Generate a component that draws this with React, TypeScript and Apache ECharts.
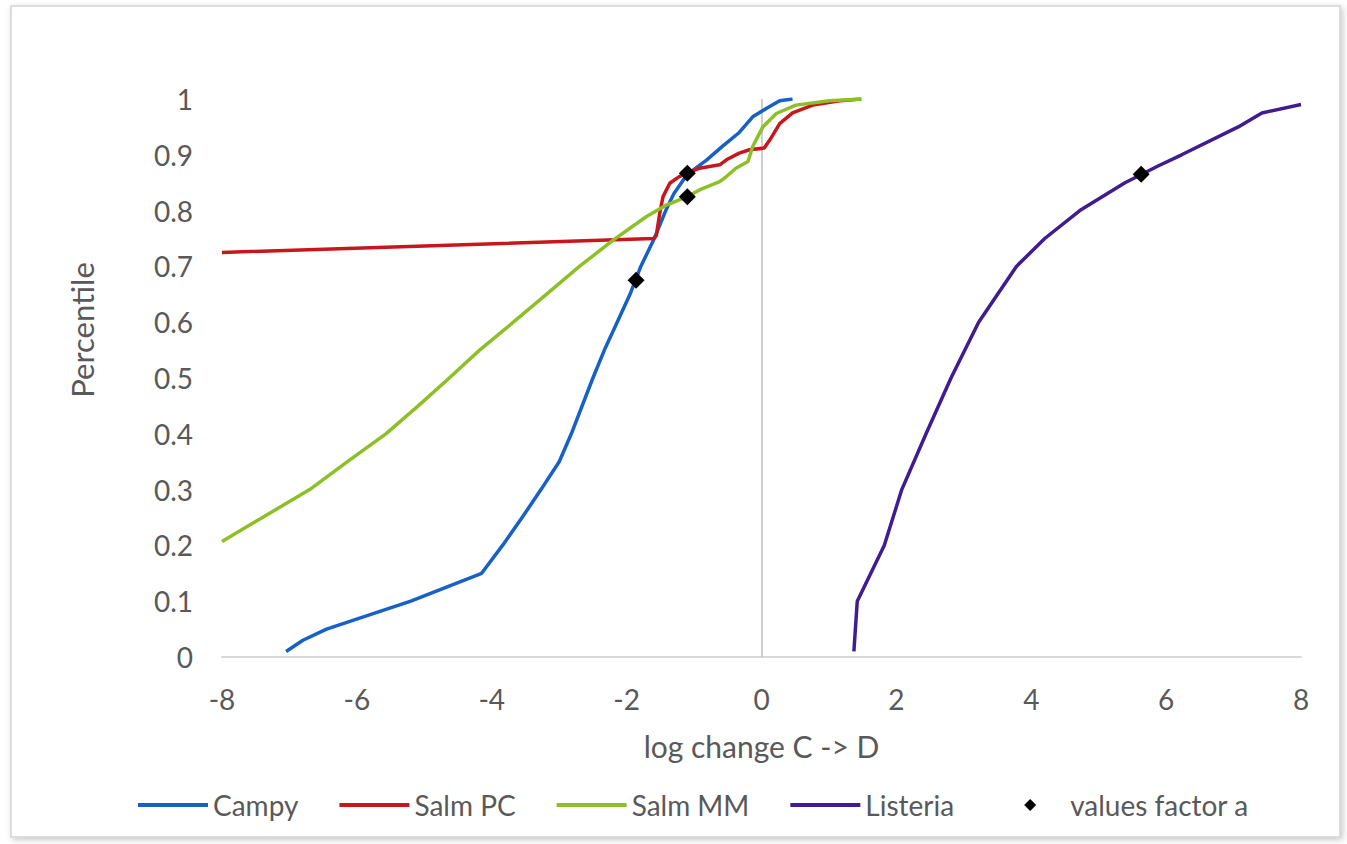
import React, { useEffect, useRef } from "react";
import * as echarts from "echarts";

// ---- data ----
const campyX = [-7.05, -6.8, -6.45, -5.2, -4.15, -3.84, -3.55, -3.27, -3.0, -2.82, -2.66, -2.5, -2.33, -2.14, -1.95, -1.79, -1.59, -1.42, -1.3, -1.1, -0.82, -0.58, -0.33, -0.13, 0.07, 0.27, 0.46];
const campyP = [0.01, 0.03, 0.05, 0.1, 0.15, 0.2, 0.25, 0.3, 0.35, 0.4, 0.45, 0.5, 0.55, 0.6, 0.65, 0.7, 0.75, 0.8, 0.83, 0.865, 0.89, 0.915, 0.94, 0.968, 0.983, 0.997, 1.0];

const salmPcX = [-8, -1.6, -1.56, -1.51, -1.46, -1.36, -1.22, -1.1, -0.92, -0.62, -0.52, -0.33, -0.18, 0.04, 0.12, 0.27, 0.46, 0.76, 1.16, 1.48];
const salmPcP = [0.725, 0.75, 0.755, 0.795, 0.825, 0.849, 0.861, 0.867, 0.876, 0.882, 0.891, 0.903, 0.909, 0.912, 0.926, 0.956, 0.975, 0.989, 0.997, 1.0];

const salmMmX = [-8, -7.4, -6.7, -6.14, -5.57, -5.09, -4.63, -4.18, -3.68, -3.19, -2.7, -2.2, -1.71, -1.41, -1.1, -0.92, -0.62, -0.52, -0.38, -0.2, -0.13, 0.02, 0.22, 0.51, 1.01, 1.48];
const salmMmP = [0.207, 0.25, 0.3, 0.35, 0.4, 0.45, 0.5, 0.55, 0.6, 0.65, 0.7, 0.747, 0.789, 0.81, 0.825, 0.837, 0.852, 0.861, 0.876, 0.888, 0.915, 0.95, 0.974, 0.989, 0.997, 1.0];

const listeriaX = [1.37, 1.42, 1.82, 2.08, 2.44, 2.81, 3.22, 3.78, 4.2, 4.72, 5.39, 5.88, 6.23, 7.07, 7.42, 8.0];
const listeriaP = [0.01, 0.1, 0.2, 0.3, 0.4, 0.5, 0.6, 0.7, 0.75, 0.8, 0.85, 0.88, 0.9, 0.95, 0.975, 0.99];

const factorX = [-1.86, -1.1, -1.1, 5.63];
const factorP = [0.675, 0.867, 0.825, 0.865];

const seriesNames = ["Campy", "Salm PC", "Salm MM", "Listeria", "values factor a"];
const seriesColors = ["#1660C6", "#C8161D", "#8CC026", "#401C92", "#000000"];

const xTitle = "log change C -> D";
const yTitle = "Percentile";

const FONT = "Lato, 'Noto Sans', sans-serif";
const TEXT = "#595959";
const LINE_ICON = "path://M0,0L70,0L70,4L0,4Z";
// diamond centred in a 70-wide box (zero-length segments widen the bounds)
const DIAMOND_ICON = "path://M0,6L0,6.01M70,6L70,6.01M29,6L35,0L41,6L35,12Z";

const pairs = (xs: number[], ps: number[]) => xs.map((x, i) => [x, ps[i]]);

export default function App() {
  const ref = useRef<HTMLDivElement>(null);

  useEffect(() => {
    if (!ref.current) return;
    const chart = echarts.init(ref.current, null, { renderer: "svg" });
    const lineSeries = [
      [campyX, campyP],
      [salmPcX, salmPcP],
      [salmMmX, salmMmP],
      [listeriaX, listeriaP],
    ].map(([xs, ps], i) => ({
      name: seriesNames[i],
      type: "line",
      data: pairs(xs, ps),
      symbol: "none",
      smooth: false,
      z: 3,
      lineStyle: { color: seriesColors[i], width: 3.5 },
      itemStyle: { color: seriesColors[i] },
      ...(i === 0
        ? {
            markLine: {
              silent: true,
              symbol: "none",
              z: 1,
              label: { show: false },
              lineStyle: { color: "#BFBFBF", width: 1.5, type: "solid" },
              data: [{ xAxis: 0 }],
            },
          }
        : {}),
    }));

    chart.setOption({
      animation: false,
      backgroundColor: "#ffffff",
      textStyle: { fontFamily: FONT },
      graphic: [
        {
          type: "rect",
          z: -10,
          silent: true,
          shape: { x: 11, y: 6, width: 1329, height: 831 },
          style: {
            fill: "#ffffff",
            stroke: "#D4D4D4",
            lineWidth: 1.5,
            shadowBlur: 6,
            shadowColor: "rgba(0,0,0,0.22)",
            shadowOffsetX: 2,
            shadowOffsetY: 2,
          },
        },
        {
          type: "text",
          x: 82,
          y: 330,
          rotation: Math.PI / 2,
          style: {
            text: yTitle,
            fontFamily: FONT,
            fontSize: 31,
            fill: TEXT,
            align: "center",
            verticalAlign: "middle",
          },
        },
      ],
      grid: { left: 222, right: 46, top: 99, bottom: 187, outerBoundsMode: "none" },
      legend: {
        left: 133,
        top: 786,
        itemWidth: 70,
        itemHeight: 12,
        itemGap: 41,
        symbolKeepAspect: true,
        textStyle: { fontFamily: FONT, fontSize: 28, color: TEXT },
        data: seriesNames.map((n, i) => ({
          name: n,
          icon: i === 4 ? DIAMOND_ICON : LINE_ICON,
          itemStyle: { color: seriesColors[i], opacity: 1 },
        })),
      },
      xAxis: {
        type: "value",
        min: -8,
        max: 8,
        interval: 2,
        name: xTitle,
        nameLocation: "middle",
        nameGap: 74,
        nameTextStyle: { fontFamily: FONT, fontSize: 30, color: TEXT },
        axisLine: { show: true, onZero: false, lineStyle: { color: "#D9D9D9", width: 2 } },
        axisTick: { show: false },
        splitLine: { show: false },
        axisLabel: { fontFamily: FONT, fontSize: 28, color: TEXT, margin: 28 },
      },
      yAxis: {
        type: "value",
        min: 0,
        max: 1,
        interval: 0.1,
        axisLine: { show: false },
        axisTick: { show: false },
        splitLine: { show: false },
        axisLabel: { fontFamily: FONT, fontSize: 28, color: TEXT, margin: 29 },
      },
      series: [
        ...lineSeries,
        {
          name: seriesNames[4],
          type: "scatter",
          data: pairs(factorX, factorP),
          symbol: "diamond",
          symbolSize: 17,
          z: 5,
          itemStyle: { color: seriesColors[4], opacity: 1 },
        },
      ],
    });
    return () => chart.dispose();
  }, []);

  return (
    <div
      ref={ref}
      style={{ position: "fixed", left: 0, top: 0, width: 1347, height: 844 }}
    />
  );
}
